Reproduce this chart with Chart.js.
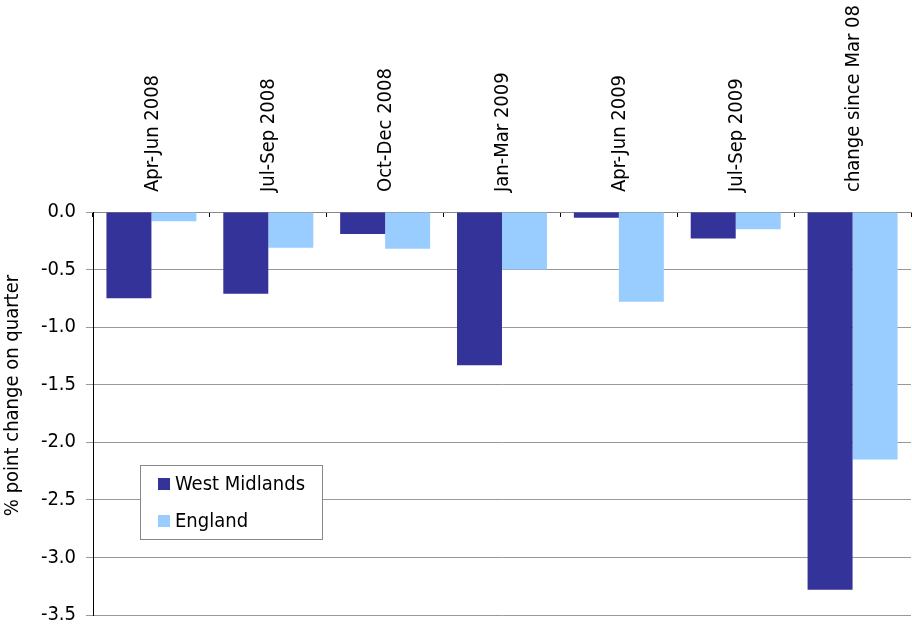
<!DOCTYPE html>
<html>
<head>
<meta charset="utf-8">
<script src="https://cdn.jsdelivr.net/npm/chart.js@4.4.1/dist/chart.umd.min.js"></script>
<style>
html,body{margin:0;padding:0;background:#fff;}
#wrap{width:912px;height:626px;position:relative;}
</style>
</head>
<body>
<div id="wrap"><canvas id="c" width="912" height="626"></canvas></div>
<script>
const categories = ["Apr-Jun 2008","Jul-Sep 2008","Oct-Dec 2008","Jan-Mar 2009","Apr-Jun 2009","Jul-Sep 2009","change since Mar 08"];
const westMidlands = [-0.75,-0.71,-0.19,-1.33,-0.05,-0.23,-3.28];
const england = [-0.08,-0.31,-0.32,-0.50,-0.78,-0.15,-2.15];
const seriesNames = ["West Midlands","England"];
const yTicks = {min:-3.5,max:0,step:0.5};
const yTitle = "% point change on quarter";

const FONT = "'DejaVu Sans Condensed', 'DejaVu Sans', sans-serif";
const FS = 20;

const extrasPlugin = {
  id:'extras',
  afterDraw(chart){
    const ctx = chart.ctx;
    ctx.save();
    // y axis title
    ctx.font=FS+"px "+FONT;
    ctx.fillStyle='#000';
    ctx.translate(13,395.5);
    ctx.rotate(-Math.PI/2);
    ctx.textAlign='center';
    ctx.textBaseline='middle';
    ctx.fillText(yTitle,0,0);
    ctx.restore();
    // legend box
    ctx.save();
    const x=140.5,y=465.5,w=182,h=74;
    ctx.fillStyle='#fff';
    ctx.fillRect(x,y,w,h);
    ctx.strokeStyle='#888';
    ctx.lineWidth=1;
    ctx.strokeRect(x,y,w,h);
    ctx.font=FS+"px "+FONT;
    ctx.textBaseline='middle';
    chart.data.datasets.forEach((ds,i)=>{
      const cy = 484 + i*37;
      ctx.fillStyle=ds.backgroundColor;
      ctx.fillRect(158,cy-6,12,12);
      ctx.fillStyle='#000';
      ctx.fillText(ds.label,175,cy+1);
    });
    ctx.restore();
  }
};

new Chart(document.getElementById('c'),{
  type:'bar',
  data:{
    labels:categories,
    datasets:[
      {label:seriesNames[0],data:westMidlands,backgroundColor:'#333399',categoryPercentage:0.77,barPercentage:1.0},
      {label:seriesNames[1],data:england,backgroundColor:'#99CCFF',categoryPercentage:0.77,barPercentage:1.0}
    ]
  },
  options:{
    responsive:false,
    animation:false,
    layout:{padding:{left:0,right:1,top:0,bottom:11}},
    plugins:{legend:{display:false},tooltip:{enabled:false}},
    scales:{
      x:{
        position:'top',
        afterFit(s){s.height=212;},
        grid:{drawOnChartArea:false,offset:true,tickLength:-5,color:'#000'},
        border:{color:'#888',width:1},
        ticks:{maxRotation:90,minRotation:90,autoSkip:false,padding:25,labelOffset:25,color:'#000',font:{family:FONT,size:FS}}
      },
      y:{
        min:yTicks.min,max:yTicks.max,
        afterFit(s){s.width=93;},
        grid:{color:'#999',tickLength:7},
        border:{color:'#000',width:1},
        ticks:{stepSize:yTicks.step,color:'#000',padding:10,font:{family:FONT,size:FS,lineHeight:0.1},callback:v=>(Math.abs(v)<1e-9?0:v).toFixed(1)},
        title:{display:false}
      }
    }
  },
  plugins:[extrasPlugin]
});
</script>
</body>
</html>
